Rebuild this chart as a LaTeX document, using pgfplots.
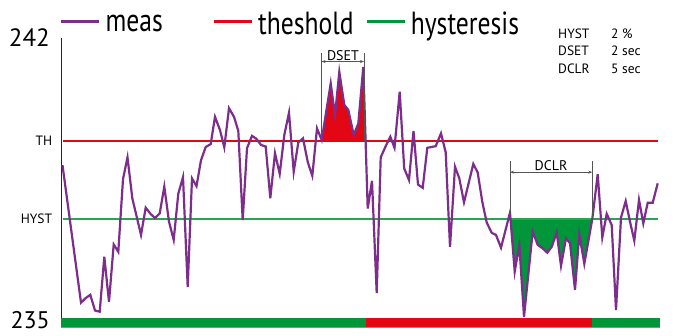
\documentclass[border=0pt]{standalone}
\usepackage{pgfplots}
\pgfplotsset{compat=1.18}
\usepackage{pgfplotstable}
\usepackage{fontspec}
\setmainfont{PT Sans}
\newfontfamily\legfont[FakeStretch=0.8]{PT Sans}
\usetikzlibrary{arrows.meta}
\definecolor{meascol}{RGB}{125,45,140}
\definecolor{thred}{RGB}{227,6,19}
\definecolor{hgreen}{RGB}{0,150,57}
\definecolor{hline}{RGB}{40,165,80}
\definecolor{dimgray}{RGB}{85,85,85}

\pgfplotstableread{
x y
62.5 238.92
81.0 235.59
85.7 235.70
90.3 235.78
95.0 235.40
99.7 235.37
104.3 236.70
109.0 235.61
113.7 237.00
118.3 236.82
123.0 238.58
127.5 239.11
132.3 238.12
141.0 237.23
145.7 237.89
150.5 237.74
155.0 237.64
159.7 237.75
164.3 238.40
169.0 237.55
173.7 237.11
178.3 238.23
183.0 238.63
187.7 235.97
192.0 238.60
196.5 238.41
201.0 239.04
205.7 239.36
210.7 239.43
215.0 240.09
220.0 239.77
224.3 239.35
229.0 240.30
234.0 240.09
238.3 239.75
242.7 237.59
247.0 239.33
252.0 239.63
256.3 239.56
261.0 239.41
265.7 239.37
270.3 238.12
275.0 239.21
279.7 238.71
284.3 239.65
289.0 240.19
293.7 238.76
298.3 239.47
303.0 239.57
307.7 239.00
312.3 238.66
317.0 239.81
321.7 239.53
330.7 240.90
335.0 240.13
339.3 241.18
344.3 240.38
348.3 240.26
353.7 239.65
358.3 239.93
363.3 241.30
367.7 237.87
372.0 238.54
376.7 235.82
380.7 239.11
385.7 239.38
390.3 239.61
394.5 239.34
399.7 240.70
404.2 238.84
409.0 238.56
413.5 239.75
418.0 238.45
422.7 238.37
427.3 239.34
435.7 239.38
441.0 239.69
445.7 239.23
450.0 236.94
455.0 238.88
459.3 238.60
464.0 238.02
473.3 238.95
477.7 238.74
482.3 238.03
486.7 237.53
491.7 237.28
496.0 237.23
501.0 236.92
510.0 237.77
514.7 236.34
519.3 236.99
524.0 235.25
532.7 237.31
537.7 236.99
542.3 236.91
547.3 236.80
551.7 236.94
556.7 237.29
561.0 236.48
566.0 237.15
570.0 237.03
575.0 235.90
579.3 237.25
584.3 236.53
592.3 237.62
597.7 238.70
602.3 237.17
606.7 237.74
611.7 237.47
616.0 235.41
621.0 237.65
625.7 238.05
630.0 237.55
634.3 237.09
639.0 238.08
643.3 237.51
647.7 238.01
652.7 238.01
657.7 238.48
}\meas

\begin{document}
\begin{tikzpicture}
\begin{axis}[
  at={(61pt,9pt)}, anchor=south west,
  scale only axis, width=599pt, height=289pt,
  xmin=61, xmax=660, ymin=235, ymax=242,
  axis x line=bottom, axis y line=left,
  x axis line style={-, draw=black!45, line width=1.2pt},
  y axis line style={-, draw=black!85, line width=0.9pt},
  xtick=\empty, ytick=\empty,
  clip=false,
  legend columns=-1,
  legend cell align=left,
  legend style={draw=none, fill=none, inner sep=0pt, outer sep=0pt,
    at={(axis cs:60,242.33)}, anchor=west,
    font=\legfont\fontsize{32}{32}\selectfont,
    nodes={inner sep=0pt},
    /tikz/every odd column/.append style={column sep=5pt}},
  legend image code/.code={\draw[#1, line width=2.6pt] (0pt,0.3em) -- (38pt,0.3em);},
]
\addlegendimage{meascol}
\addlegendentry{\makebox[107pt][l]{meas}}
\addlegendimage{thred}
\addlegendentry{\makebox[107pt][l]{theshold}}
\addlegendimage{hgreen}
\addlegendentry{hysteresis}

% status bar
\addplot[fill=hgreen, draw=none, forget plot] coordinates {(61,235.01) (365.6,235.01) (365.6,235.21) (61,235.21)} --cycle;
\addplot[fill=thred, draw=none, forget plot] coordinates {(365.6,235.01) (592.3,235.01) (592.3,235.21) (365.6,235.21)} --cycle;
\addplot[fill=hgreen, draw=none, forget plot] coordinates {(592.3,235.01) (660,235.01) (660,235.21) (592.3,235.21)} --cycle;

% filled excursions
\addplot[fill=thred, draw=none, forget plot] coordinates {(321.7,239.5) (330.7,240.90) (335,240.13) (339.3,241.18) (344.3,240.38) (348.3,240.26) (353.7,239.65) (358.3,239.93) (363.3,241.30) (365.6,239.5)} --cycle;
\addplot[fill=hgreen, draw=none, forget plot] coordinates {(510.5,237.62) (514.7,236.34) (519.3,236.99) (524,235.25) (532.7,237.31) (537.7,236.99) (542.3,236.91) (547.3,236.80) (551.7,236.94) (556.7,237.29) (561,236.48) (566,237.15) (570,237.03) (575,235.90) (579.3,237.25) (584.3,236.53) (592.3,237.62)} --cycle;

% threshold and hysteresis
\addplot[thred, line width=1.8pt, forget plot] coordinates {(62.5,239.5) (657.5,239.5)};
\addplot[hline, line width=1.8pt, forget plot] coordinates {(62.5,237.62) (657.5,237.62)};

% measurement
\addplot[meascol, line width=2.2pt, forget plot] table[x=x, y=y] {\meas};

% DSET dimension
\draw[dimgray, line width=0.9pt] (axis cs:321.5,239.53) -- (axis cs:321.5,241.64);
\draw[dimgray, line width=0.9pt] (axis cs:364,239.5) -- (axis cs:364,241.64);
\draw[dimgray, line width=0.7pt, {Stealth[length=4pt,width=3pt]}-{Stealth[length=4pt,width=3pt]}] (axis cs:321.5,241.43) -- (axis cs:364,241.43);
\node[anchor=south, inner sep=1pt, font=\fontsize{14}{14}\selectfont] at (axis cs:343,241.43) {DSET};

% DCLR dimension
\draw[dimgray, line width=0.9pt] (axis cs:510,237.77) -- (axis cs:510,239.03);
\draw[dimgray, line width=0.9pt] (axis cs:592.3,237.62) -- (axis cs:592.3,239.03);
\draw[dimgray, line width=0.7pt, {Stealth[length=4pt,width=3pt]}-{Stealth[length=4pt,width=3pt]}] (axis cs:510,238.75) -- (axis cs:592.3,238.75);
\node[anchor=south, inner sep=1pt, font=\fontsize{14}{14}\selectfont] at (axis cs:551,238.75) {DCLR};

% y labels
\node[anchor=east, inner sep=0pt, font=\fontsize{25}{25}\selectfont] at (axis cs:50,242) {242};
\node[anchor=south east, inner sep=0pt, font=\fontsize{24}{24}\selectfont] at (axis cs:50,234.96) {235};
\node[anchor=east, inner sep=0pt, font=\fontsize{13.5}{13.5}\selectfont] at (axis cs:52.3,239.5) {TH};
\node[anchor=east, inner sep=0pt, font=\fontsize{13.5}{13.5}\selectfont] at (axis cs:52.3,237.62) {HYST};

% parameter block
\node[anchor=west, inner sep=0pt, font=\fontsize{13.5}{13.5}\selectfont] at (axis cs:558,242.10) {HYST};
\node[anchor=west, inner sep=0pt, font=\fontsize{13.5}{13.5}\selectfont] at (axis cs:558,241.68) {DSET};
\node[anchor=west, inner sep=0pt, font=\fontsize{13.5}{13.5}\selectfont] at (axis cs:558,241.25) {DCLR};
\node[anchor=west, inner sep=0pt, font=\fontsize{13.5}{13.5}\selectfont] at (axis cs:611,242.10) {2 \%};
\node[anchor=west, inner sep=0pt, font=\fontsize{13.5}{13.5}\selectfont] at (axis cs:611,241.68) {2 sec};
\node[anchor=west, inner sep=0pt, font=\fontsize{13.5}{13.5}\selectfont] at (axis cs:611,241.25) {5 sec};
\end{axis}
\pgfresetboundingbox
\path[use as bounding box] (0pt,0pt) rectangle (698pt,336pt);
\end{tikzpicture}
\end{document}
